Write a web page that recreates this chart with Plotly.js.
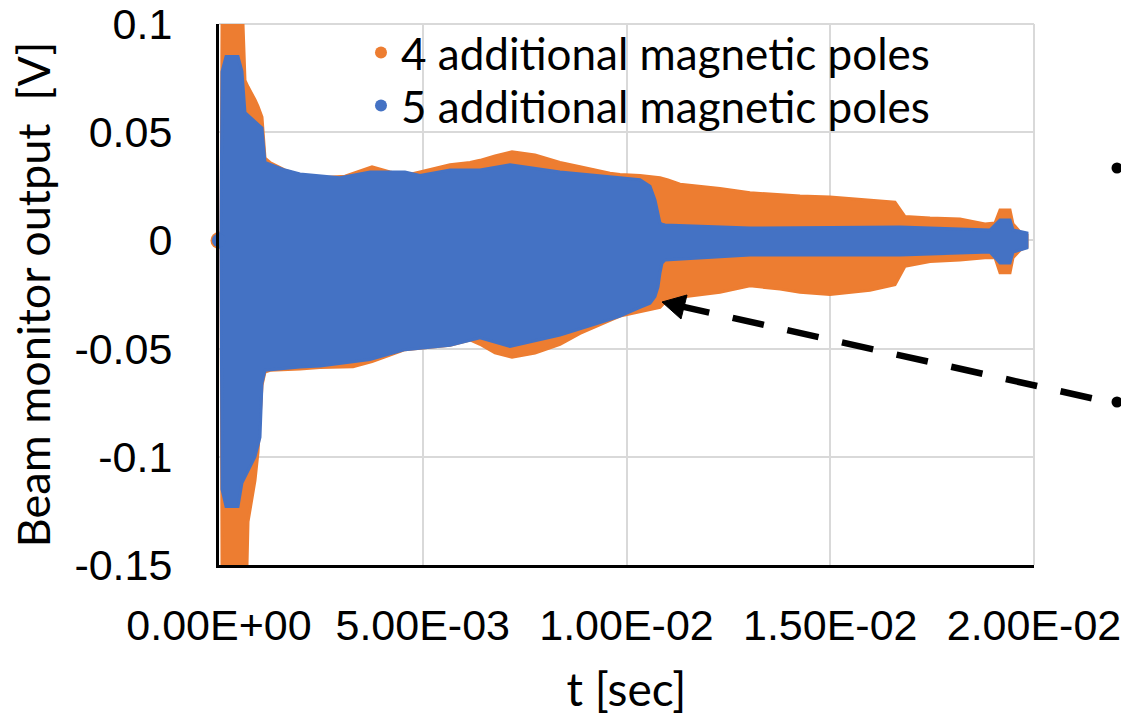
<!DOCTYPE html>
<html><head><meta charset="utf-8">
<script src="https://cdn.plot.ly/plotly-3.0.1.min.js"></script>
<style>html,body{margin:0;padding:0;background:#fff}#chart{width:1121px;height:716px}</style>
</head><body><div id="chart"></div>
<script>
const seriesNames = ['4 additional magnetic poles', '5 additional magnetic poles'];
const seriesColors = ['#ED7D31', '#4472C4'];

// Envelope of the beam monitor signal, 4 additional magnetic poles (t in s, V)
const t4 = [0, 0.000049, 0.000074, 0.000589, 0.000638, 0.000687, 0.000712, 0.000883, 0.000957, 0.001055,
  0.001129, 0.001252, 0.00162, 0.001988, 0.002479, 0.003092, 0.003288, 0.003755, 0.004196, 0.004564,
  0.004933, 0.005669, 0.00616, 0.006405, 0.006773, 0.00719, 0.007755, 0.008368, 0.008859, 0.009595,
  0.009841, 0.010331, 0.010822, 0.011018, 0.011313, 0.012294, 0.013031, 0.013767, 0.014258, 0.014994,
  0.015975, 0.016589, 0.016834, 0.017448, 0.018184, 0.018798, 0.019043, 0.019166, 0.019411, 0.019485,
  0.019657, 0.019828];
const upper4 = [0.0034, 0.0034, 0.1, 0.1, 0.074, 0.072, 0.071, 0.065, 0.062, 0.057,
  0.038, 0.036, 0.0325, 0.030, 0.029, 0.0297, 0.031, 0.034, 0.0316, 0.030,
  0.0316, 0.035, 0.036, 0.037, 0.039, 0.041, 0.0395, 0.036, 0.034, 0.031,
  0.0305, 0.030, 0.029, 0.028, 0.026, 0.024, 0.022, 0.021, 0.0205, 0.020,
  0.0187, 0.0177, 0.011, 0.0103, 0.0099, 0.0076, 0.008, 0.014, 0.014, 0.0076,
  0.0039, 0.0025];
const lower4 = [-0.0034, -0.0034, -0.15, -0.15, -0.15, -0.15, -0.130, -0.111, -0.098, -0.067,
  -0.0608, -0.060, -0.0597, -0.0594, -0.0587, -0.0584, -0.0584, -0.056, -0.053, -0.0505,
  -0.050, -0.0485, -0.046, -0.048, -0.052, -0.054, -0.052, -0.048, -0.043, -0.037,
  -0.035, -0.033, -0.031, -0.027, -0.0262, -0.024, -0.021, -0.0225, -0.024, -0.025,
  -0.023, -0.0205, -0.012, -0.0098, -0.009, -0.008, -0.008, -0.015, -0.015, -0.008,
  -0.0045, -0.003];

// Envelope, 5 additional magnetic poles
const t5 = [0, 0.000049, 0.000074, 0.000172, 0.000466, 0.000564, 0.000638, 0.000883, 0.001006, 0.001055,
  0.001129, 0.00162, 0.001988, 0.002479, 0.002969, 0.003706, 0.004564, 0.004933, 0.005669, 0.006405,
  0.007141, 0.008368, 0.00935, 0.009841, 0.010331, 0.010577, 0.010699, 0.010773, 0.010822, 0.010871,
  0.010945, 0.013031, 0.016712, 0.01892, 0.019166, 0.019411, 0.019485, 0.019828];
const upper5 = [0.003, 0.003, 0.078, 0.085, 0.085, 0.078, 0.059, 0.055, 0.053, 0.052,
  0.036, 0.0325, 0.0307, 0.0297, 0.029, 0.0316, 0.0316, 0.030, 0.0325, 0.0325,
  0.035, 0.0316, 0.030, 0.029, 0.028, 0.025, 0.0187, 0.012, 0.008, 0.0075,
  0.0071, 0.0057, 0.0062, 0.0048, 0.0094, 0.0094, 0.0048, 0.0034];
const lower5 = [-0.003, -0.003, -0.115, -0.123, -0.123, -0.112, -0.109, -0.100, -0.091, -0.066,
  -0.060, -0.059, -0.0585, -0.058, -0.057, -0.055, -0.0505, -0.050, -0.0485, -0.045,
  -0.049, -0.0437, -0.038, -0.035, -0.031, -0.029, -0.026, -0.0215, -0.015, -0.0105,
  -0.009, -0.0067, -0.0067, -0.0054, -0.0105, -0.0105, -0.0054, -0.0035];

const xTickVals = [0, 0.005, 0.01, 0.015, 0.02];
const xTickText = ['0.00E+00', '5.00E-03', '1.00E-02', '1.50E-02', '2.00E-02'];
const yTickVals = [-0.15, -0.1, -0.05, 0, 0.05, 0.1];
const yTickText = ['-0.15', '-0.1', '-0.05', '0', '0.05', '0.1'];

function band(t, up, lo, color) {
  return {
    type: 'scatter', mode: 'lines',
    x: t.concat(t.slice().reverse()),
    y: up.concat(lo.slice().reverse()),
    fill: 'toself', fillcolor: color,
    line: { color: color, width: 3, shape: 'linear' },
    showlegend: false, hoverinfo: 'skip'
  };
}
function startDot(t, up, lo, color, size) {
  return {
    type: 'scatter', mode: 'markers', x: [t[0]], y: [(up[0] + lo[0]) / 2],
    marker: { color: color, size: size }, cliponaxis: false, showlegend: false, hoverinfo: 'skip'
  };
}
function legendItem(i, legendId) {
  return {
    type: 'scatter', mode: 'markers', x: [null], y: [null], name: seriesNames[i],
    marker: { color: seriesColors[i], size: 12 }, legend: legendId, hoverinfo: 'skip'
  };
}

const data = [
  band(t4, upper4, lower4, seriesColors[0]),
  startDot(t4, upper4, lower4, seriesColors[0], 17),
  band(t5, upper5, lower5, seriesColors[1]),
  startDot(t5, upper5, lower5, seriesColors[1], 14),
  legendItem(0, 'legend'),
  legendItem(1, 'legend2')
];

const W = 1121, H = 716, L = 219, R = 87, T = 24, B = 151;
const pw = W - L - R, ph = H - T - B;
const px = v => (v - L) / pw;
const py = v => (H - B - v) / ph;

// arrow geometry (pixel positions on the page)
const tip = [662, 302], slope = 0.224;
const shaftStart = [678, 302 + 16 * slope], shaftEnd = [1100, 302 + 438 * slope];

const legendFont = { family: 'Lato, sans-serif', size: 44, color: '#000' };
const gridColor = '#d9d9d9';

const layout = {
  width: W, height: H,
  margin: { l: L, r: R, t: T, b: B, pad: 0 },
  paper_bgcolor: '#fff', plot_bgcolor: '#fff',
  font: { family: 'Lato, sans-serif', color: '#000' },
  xaxis: {
    range: [0, 0.02], tickmode: 'array', tickvals: xTickVals, ticktext: xTickText,
    showgrid: true, gridcolor: gridColor, gridwidth: 2, zeroline: false,
    showline: true, linecolor: '#000', linewidth: 3,
    ticks: 'outside', ticklen: 20, tickcolor: 'rgba(0,0,0,0)',
    ticklabeloverflow: 'allow',
    tickfont: { family: '"Liberation Sans Narrow", sans-serif', size: 43, color: '#000' },
    title: { text: 't [sec]', font: { family: 'Lato, sans-serif', size: 46, color: '#000' }, standoff: 28 }
  },
  yaxis: {
    range: [-0.15, 0.1], tickmode: 'array', tickvals: yTickVals, ticktext: yTickText,
    showgrid: true, gridcolor: gridColor, gridwidth: 2, zeroline: false,
    showline: true, linecolor: '#000', linewidth: 3,
    ticks: 'outside', ticklen: 35, tickcolor: 'rgba(0,0,0,0)',
    tickfont: { family: '"Liberation Sans Narrow", sans-serif', size: 43, color: '#000' },
    title: { text: 'Beam monitor output  [V]', font: { family: 'Lato, sans-serif', size: 45, color: '#000' }, standoff: 10 }
  },
  legend: {
    x: px(361), y: py(53), xanchor: 'left', yanchor: 'middle',
    bgcolor: 'rgba(0,0,0,0)', borderwidth: 0, font: legendFont
  },
  legend2: {
    x: px(361), y: py(106), xanchor: 'left', yanchor: 'middle',
    bgcolor: 'rgba(0,0,0,0)', borderwidth: 0, font: legendFont
  },
  shapes: [
    // grid lines on the top (0.1) and right (0.02) edges of the plot area
    { type: 'line', xref: 'paper', yref: 'paper', layer: 'below', x0: 0, x1: 1, y0: 1, y1: 1,
      line: { color: gridColor, width: 2 } },
    { type: 'line', xref: 'paper', yref: 'paper', layer: 'below', x0: 1, x1: 1, y0: 0, y1: 1,
      line: { color: gridColor, width: 2 } },
    { type: 'line', xref: 'paper', yref: 'paper',
      x0: px(shaftStart[0]), y0: py(shaftStart[1]), x1: px(shaftEnd[0]), y1: py(shaftEnd[1]),
      line: { color: '#000', width: 6.5, dash: '32px,24px' } },
    { type: 'path', xref: 'paper', yref: 'paper',
      path: `M ${px(tip[0])} ${py(tip[1])} L ${px(687)} ${py(295)} L ${px(681)} ${py(319)} Z`,
      fillcolor: '#000', line: { color: '#000', width: 1 } },
    { type: 'circle', xref: 'paper', yref: 'paper',
      x0: px(1111.5), x1: px(1122.5), y0: py(162.5), y1: py(173.5), fillcolor: '#000', line: { width: 0 } },
    { type: 'circle', xref: 'paper', yref: 'paper',
      x0: px(1111.5), x1: px(1122.5), y0: py(396.5), y1: py(407.5), fillcolor: '#000', line: { width: 0 } }
  ]
};

Plotly.newPlot('chart', data, layout, { displayModeBar: false, staticPlot: true });
</script>
</body></html>
